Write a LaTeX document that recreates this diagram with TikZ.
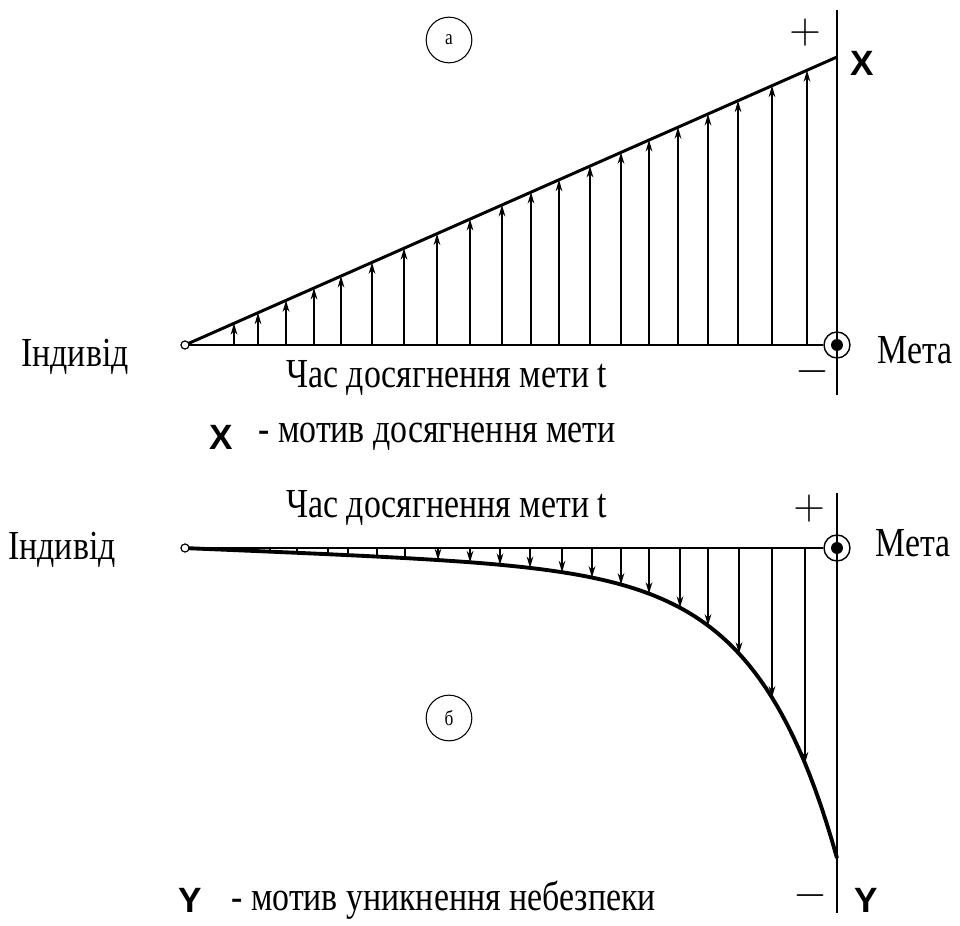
\documentclass[tikz,border=0pt]{standalone}
\usepackage{fontspec}
\setmainfont{Liberation Serif}[FakeStretch=0.82]
\setsansfont{Liberation Sans}
\usetikzlibrary{arrows.meta}
\tikzset{
  axis/.style ={line width=0.9pt},
  slope/.style={line width=1.7pt},
  vec/.style  ={line width=0.8pt, -{Stealth[length=6.5pt,width=3.8pt]}},
  tick/.style ={line width=0.8pt},
  lbl/.style  ={font=\fontsize{23.5}{27}\selectfont, inner sep=0pt, anchor=west},
  var/.style  ={font=\sffamily\bfseries\fontsize{20}{22}\selectfont, inner sep=0pt},
  sign/.style ={font=\fontsize{24}{28}\selectfont, inner sep=0pt},
  tag/.style  ={draw, circle, line width=0.6pt, minimum size=26pt, inner sep=0pt,
                font=\fontsize{12}{14}\selectfont},
  goal/.style ={draw, circle, line width=0.8pt, minimum size=14.8pt, inner sep=0pt},
  start/.style={draw, circle, fill=white, line width=0.6pt, minimum size=4.5pt, inner sep=0pt},
}
\begin{document}
\begin{tikzpicture}[x=0.02cm, y=-0.02cm,
    declare function={rise(\t)=345-(\t-185)/652*288;
                      fall(\t)=548+284*exp(0.0125*(\t-837))+0.04*(\t-185);}]
  \useasboundingbox (0,0) rectangle (960,926);
  % (a) motive of reaching the goal
  \coordinate (T1) at (837,10);
  \coordinate (B1) at (837,395);
  \coordinate (X1) at (837,57);
  \draw[axis] (T1) -- (B1);
  \node[goal] (G1) at (837,345) {};
  \fill (G1) circle (3.4pt);
  \node[start] (O1) at (185,345) {};
  \draw[axis] (O1) -- (G1);
  \draw[slope] (O1.center) -- (X1);
  \foreach \x in {234,258,286,314,341,372,404,437,470,502,531,559,590,621,649,678,708,738,772,807}
    \draw[vec] (\x,345) -- (\x,{rise(\x)});
  \node[start] at (O1) {};
  \node[tag] (ta) at (449,40) {а};
  \node[sign] (p1) at (805,33) {$+$};
  \node[sign] (m1) at (812,372) {$-$};
  \node[var] (vx) at (862,63) {X};
  \node[lbl] (i1) at (21,357) {Індивід};
  \node[lbl] (e1) at (877,350) {Мета};
  \node[lbl] (c1) at (286,378) {Час досягнення мети t};
  \node[var] (lx) at (221,437) {X};
  \node[lbl] (dx) at (258,437) {- мотив досягнення мети};

  % (b) motive of avoiding danger
  \coordinate (T2) at (837,493);
  \coordinate (B2) at (837,913);
  \draw[axis] (T2) -- (B2);
  \node[goal] (G2) at (837,548) {};
  \fill (G2) circle (3.4pt);
  \node[start] (O2) at (185,548) {};
  \draw[axis] (O2) -- (G2);
  \draw[line width=2.2pt, line join=round]
    plot[domain=185:837, samples=120] (\x,{fall(\x)});
  \foreach \x in {270,297,328,348,377,405}
    \draw[tick] (\x,548) -- (\x,{fall(\x)});
  \foreach \x in {438,470,500,530,562,592,621,649,680,708,739,772,805}
    \draw[vec] (\x,548) -- (\x,{fall(\x)});
  \node[start] at (O2) {};
  \node[tag] (tb) at (449,718) {б};
  \node[sign] (p2) at (809,509) {$+$};
  \node[sign] (m2) at (810,896) {$-$};
  \node[var] (vy) at (866,900) {Y};
  \node[lbl] (i2) at (8,550) {Індивід};
  \node[lbl] (e2) at (875,543) {Мета};
  \node[lbl] (c2) at (286,508) {Час досягнення мети t};
  \node[var] (ly) at (190,900) {Y};
  \node[lbl] (dy) at (231,900) {- мотив уникнення небезпеки};
\end{tikzpicture}
\end{document}
